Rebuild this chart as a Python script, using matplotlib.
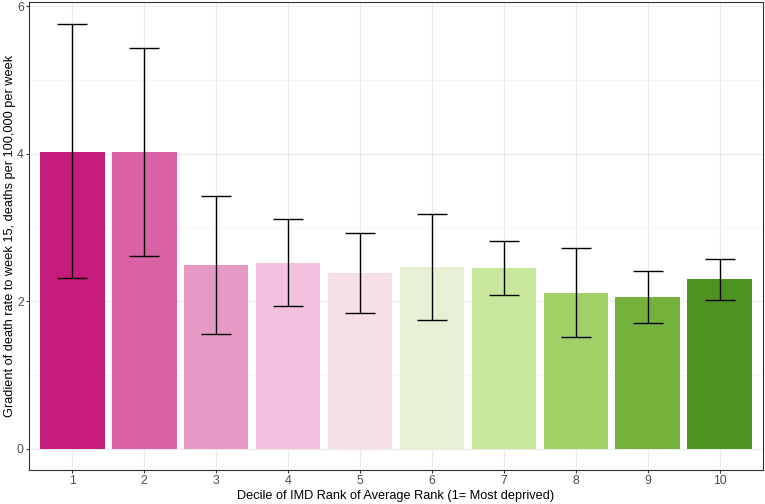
import matplotlib
matplotlib.use("Agg")
import matplotlib.pyplot as plt
from matplotlib.ticker import MultipleLocator

# =============================================================================
# DATA
# =============================================================================
deciles = [1, 2, 3, 4, 5, 6, 7, 8, 9, 10]
gradient = [4.02, 4.02, 2.49, 2.52, 2.38, 2.46, 2.45, 2.11, 2.06, 2.30]
ci_upper = [5.76, 5.43, 3.43, 3.12, 2.92, 3.19, 2.82, 2.72, 2.41, 2.57]
ci_lower = [2.31, 2.62, 1.55, 1.93, 1.84, 1.74, 2.09, 1.51, 1.71, 2.02]
bar_colors = ["#C51B7D", "#D962A4", "#E699C5", "#F4C2E0", "#F7DFEA",
              "#E7F0D5", "#C9E69D", "#A1D068", "#74B23C", "#4E9222"]

plt.rcParams["font.family"] = ["Liberation Sans", "DejaVu Sans"]

fig = plt.figure(figsize=(7.65, 5.04), dpi=100)
ax = fig.add_axes([29 / 765, 34 / 504, 734 / 765, 468 / 504])

# grid first so bars sit on top of it
ax.set_axisbelow(True)
ax.yaxis.set_minor_locator(MultipleLocator(1))
ax.grid(which="major", color="#EBEBEB", linewidth=0.8)
ax.grid(which="minor", axis="y", color="#F4F4F4", linewidth=0.6)

ax.bar(deciles, gradient, width=0.9, color=bar_colors)

err_low = [g - lo for g, lo in zip(gradient, ci_lower)]
err_high = [hi - g for g, hi in zip(gradient, ci_upper)]
ax.errorbar(deciles, gradient, yerr=[err_low, err_high], fmt="none",
            ecolor="black", elinewidth=1.0, capsize=11, capthick=1.0)

ax.set_xlim(0.4, 10.6)
ax.set_ylim(-0.29, 6.06)
ax.set_xticks(deciles)
ax.set_yticks([0, 2, 4, 6])

for side in ax.spines.values():
    side.set_color("#333333")
    side.set_linewidth(0.8)

ax.tick_params(which="major", length=2.2, width=0.8, color="#333333",
               labelcolor="#4D4D4D", labelsize=8.8, pad=1.5)
ax.tick_params(which="minor", length=0)

ax.set_xlabel("Decile of IMD Rank of Average Rank (1= Most deprived)",
              fontsize=9.2, labelpad=2.0)
ax.set_ylabel("Gradient of death rate to week 15, deaths per 100,000 per week",
              fontsize=9.2, labelpad=1.0)

fig.savefig("out.png", dpi=100)
